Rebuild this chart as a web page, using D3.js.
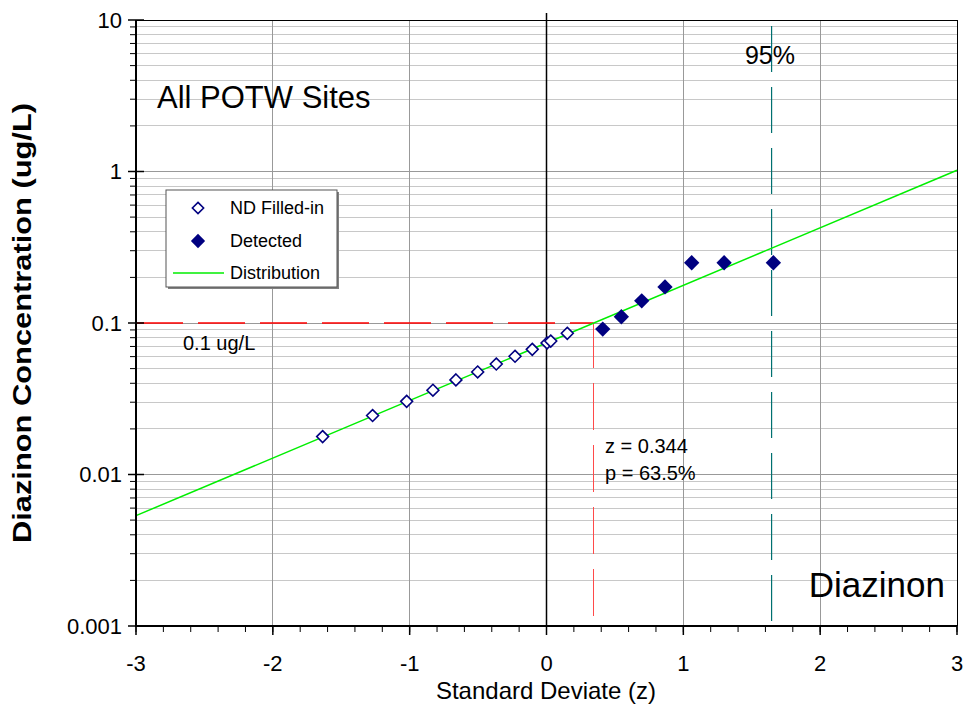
<!DOCTYPE html>
<html>
<head>
<meta charset="utf-8">
<script src="https://cdn.jsdelivr.net/npm/d3@7"></script>
<style>
  html, body { margin: 0; padding: 0; background: #fff; }
  svg { display: block; font-family: Arial, "Liberation Sans", sans-serif; }
</style>
</head>
<body>
<svg id="chart" width="971" height="726"></svg>
<script>
// ---- data ----
const zND = [-1.636, -1.271, -1.022, -0.830, -0.662, -0.503, -0.367, -0.230, -0.104, 0.004, 0.031, 0.152];
const cND = [0.0178, 0.0245, 0.0304, 0.0360, 0.0421, 0.0475, 0.0536, 0.0603, 0.0670, 0.0738, 0.0760, 0.0855];
const zDet = [0.411, 0.547, 0.696, 0.866, 1.061, 1.298, 1.658];
const cDet = [0.0912, 0.110, 0.140, 0.173, 0.25, 0.25, 0.25];
const distZ = [-3, 3];
const distC = [0.00535, 1.02];
const xTicks = [-3, -2, -1, 0, 1, 2, 3];
const yTicks = [0.001, 0.01, 0.1, 1, 10];
const yTickLabels = ["0.001", "0.01", "0.1", "1", "10"];
const threshold = 0.1;       // ug/L
const zThreshold = 0.344;
const z95 = 1.645;

// ---- layout ----
const svg = d3.select("#chart");
const L = 136, T = 20, R = 957, B = 626;
const x = d3.scaleLinear().domain([-3, 3]).range([L, R]);
const y = d3.scaleLog().domain([0.001, 10]).range([B, T]);

// horizontal grid (minor then major)
const minorY = [];
for (let e = -3; e < 1; e++) for (let m = 2; m <= 9; m++) minorY.push(m * Math.pow(10, e));
svg.append("g").selectAll("line").data(minorY).join("line")
  .attr("x1", L).attr("x2", R)
  .attr("y1", d => y(d)).attr("y2", d => y(d))
  .attr("stroke", "#c8c8c8").attr("stroke-width", 1).attr("shape-rendering", "crispEdges");
svg.append("g").selectAll("line").data(yTicks.slice(1, -1)).join("line")
  .attr("x1", L).attr("x2", R)
  .attr("y1", d => y(d)).attr("y2", d => y(d))
  .attr("stroke", "#999").attr("stroke-width", 1).attr("shape-rendering", "crispEdges");
// vertical grid
svg.append("g").selectAll("line").data(xTicks.filter(d => d !== 0 && Math.abs(d) !== 3)).join("line")
  .attr("x1", d => x(d)).attr("x2", d => x(d))
  .attr("y1", T).attr("y2", B)
  .attr("stroke", "#999").attr("stroke-width", 1).attr("shape-rendering", "crispEdges");

// frame top/right
svg.append("line").attr("x1", L).attr("x2", R).attr("y1", T).attr("y2", T)
  .attr("stroke", "#000").attr("stroke-width", 1).attr("shape-rendering", "crispEdges");
svg.append("line").attr("x1", R).attr("x2", R).attr("y1", T).attr("y2", B)
  .attr("stroke", "#000").attr("stroke-width", 1).attr("shape-rendering", "crispEdges");

// zero line
svg.append("line").attr("x1", x(0)).attr("x2", x(0)).attr("y1", T - 7).attr("y2", B)
  .attr("stroke", "#000").attr("stroke-width", 1.5);

// threshold lines
svg.append("line").attr("x1", L).attr("x2", x(zThreshold))
  .attr("y1", y(threshold)).attr("y2", y(threshold))
  .attr("stroke", "#ff0000").attr("stroke-width", 1.4).attr("stroke-dasharray", "47,15");
svg.append("line").attr("x1", x(zThreshold)).attr("x2", x(zThreshold))
  .attr("y1", y(threshold)).attr("y2", B)
  .attr("stroke", "#ff4a4a").attr("stroke-width", 1).attr("shape-rendering", "crispEdges")
  .attr("stroke-dasharray", "47,15").attr("stroke-dashoffset", 2);
// 95% line
svg.append("line").attr("x1", x(z95)).attr("x2", x(z95))
  .attr("y1", T + 6).attr("y2", B)
  .attr("stroke", "#007070").attr("stroke-width", 1.2).attr("stroke-dasharray", "46,15");

// distribution line
const line = d3.line().x(d => x(d[0])).y(d => y(d[1]));
svg.append("path").datum(distZ.map((z, i) => [z, distC[i]]))
  .attr("d", line).attr("fill", "none").attr("stroke", "#00ee00").attr("stroke-width", 1.5);

// markers
const diamond = d3.symbol().type(d3.symbolDiamond2);
svg.append("g").selectAll("path").data(zND.map((z, i) => [z, cND[i]])).join("path")
  .attr("d", diamond.size(90)())
  .attr("transform", d => `translate(${x(d[0])},${y(d[1])})`)
  .attr("fill", "#fff").attr("stroke", "#000080").attr("stroke-width", 1.6);
svg.append("g").selectAll("path").data(zDet.map((z, i) => [z, cDet[i]])).join("path")
  .attr("d", diamond.size(150)())
  .attr("transform", d => `translate(${x(d[0])},${y(d[1])})`)
  .attr("fill", "#000080");

// axes
const xAxis = svg.append("g").attr("transform", `translate(0,${B})`);
xAxis.append("line").attr("x1", L - 1).attr("x2", R).attr("y1", 0).attr("y2", 0)
  .attr("stroke", "#000").attr("stroke-width", 2);
const xMinor = d3.range(-3, 3.001, 0.2);
xAxis.selectAll("line.mn").data(xMinor).join("line").attr("class", "mn")
  .attr("x1", d => x(d)).attr("x2", d => x(d)).attr("y1", 0).attr("y2", 6)
  .attr("stroke", "#000").attr("stroke-width", 1);
xAxis.selectAll("line.mj").data(xTicks).join("line").attr("class", "mj")
  .attr("x1", d => x(d)).attr("x2", d => x(d)).attr("y1", 0).attr("y2", 9)
  .attr("stroke", "#000").attr("stroke-width", 1.5);
xAxis.selectAll("text").data(xTicks).join("text")
  .attr("x", d => x(d)).attr("y", 45)
  .attr("text-anchor", "middle").attr("font-size", 22).attr("fill", "#000")
  .text(d => String(d));

const yAxis = svg.append("g").attr("transform", `translate(${L},0)`);
yAxis.append("line").attr("x1", 0).attr("x2", 0).attr("y1", T).attr("y2", B + 1)
  .attr("stroke", "#000").attr("stroke-width", 2);
yAxis.selectAll("line.mn").data(minorY).join("line").attr("class", "mn")
  .attr("x1", -6).attr("x2", 0).attr("y1", d => y(d)).attr("y2", d => y(d))
  .attr("stroke", "#000").attr("stroke-width", 1);
yAxis.selectAll("line.mj").data(yTicks).join("line").attr("class", "mj")
  .attr("x1", -8).attr("x2", 8).attr("y1", d => y(d)).attr("y2", d => y(d))
  .attr("stroke", "#000").attr("stroke-width", 1.5);
yAxis.selectAll("text").data(yTicks).join("text")
  .attr("x", -14).attr("y", d => y(d)).attr("dy", "0.36em")
  .attr("text-anchor", "end").attr("font-size", 22).attr("fill", "#000")
  .text((d, i) => yTickLabels[i]);

// axis titles
svg.append("text").attr("x", 546).attr("y", 699).attr("text-anchor", "middle")
  .attr("font-size", 24).text("Standard Deviate (z)");
svg.append("text").attr("transform", "translate(31,323) rotate(-90)")
  .attr("text-anchor", "middle").attr("font-size", 25).attr("font-weight", "bold")
  .attr("textLength", 440).attr("lengthAdjust", "spacingAndGlyphs")
  .text("Diazinon Concentration (ug/L)");

// annotations
svg.append("text").attr("x", 157).attr("y", 108).attr("font-size", 31).text("All POTW Sites");
svg.append("text").attr("x", 770).attr("y", 64).attr("text-anchor", "middle").attr("font-size", 25).text("95%");
svg.append("text").attr("x", 945).attr("y", 597).attr("text-anchor", "end").attr("font-size", 35).text("Diazinon");
svg.append("text").attr("x", 183).attr("y", 350).attr("font-size", 20).text("0.1 ug/L");
svg.append("text").attr("x", 605).attr("y", 453).attr("font-size", 20).text("z = 0.344");
svg.append("text").attr("x", 605).attr("y", 480).attr("font-size", 20).text("p = 63.5%");

// legend
const lg = svg.append("g");
lg.append("rect").attr("x", 168).attr("y", 192).attr("width", 171).attr("height", 97).attr("fill", "#808080");
lg.append("rect").attr("x", 166).attr("y", 190).attr("width", 171).attr("height", 97)
  .attr("fill", "#fff").attr("stroke", "#555").attr("stroke-width", 1);
lg.append("path").attr("d", diamond.size(80)()).attr("transform", "translate(198,208)")
  .attr("fill", "#fff").attr("stroke", "#000080").attr("stroke-width", 1.6);
lg.append("path").attr("d", diamond.size(130)()).attr("transform", "translate(198,241)")
  .attr("fill", "#000080");
lg.append("line").attr("x1", 173).attr("x2", 224).attr("y1", 273).attr("y2", 273)
  .attr("stroke", "#00ee00").attr("stroke-width", 1.5);
const legendLabels = ["ND Filled-in", "Detected", "Distribution"];
lg.selectAll("text").data(legendLabels).join("text")
  .attr("x", 230).attr("y", (d, i) => 208 + i * 32.5).attr("dy", "0.36em")
  .attr("font-size", 18).text(d => d);
</script>
</body>
</html>
